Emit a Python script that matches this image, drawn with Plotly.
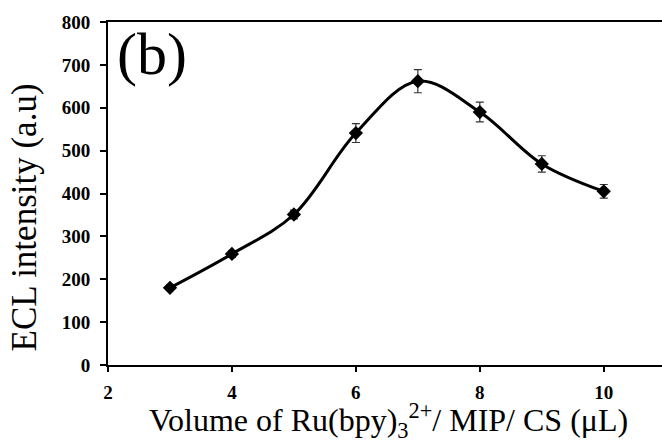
import plotly.graph_objects as go

volume = [3, 4, 5, 6, 7, 8, 9, 10]
intensity = [180, 259, 351, 541, 662, 590, 469, 405]
errors = [6, 8, 10, 22, 27, 23, 19, 16]
x_ticks = [2, 4, 6, 8, 10]
y_ticks = [0, 100, 200, 300, 400, 500, 600, 700, 800]

fig = go.Figure()
fig.add_trace(go.Scatter(
    x=volume, y=intensity,
    mode="lines+markers",
    line=dict(color="black", width=3, shape="spline", smoothing=1.0),
    marker=dict(symbol="diamond", size=11, color="black"),
    error_y=dict(type="data", array=errors, visible=True, color="#333333", thickness=1.2, width=4),
    showlegend=False,
))

tickfont = dict(family="Liberation Serif", size=19, color="black", weight="bold")
fig.update_layout(
    width=662, height=442,
    margin=dict(l=108, r=0, t=22, b=77),
    paper_bgcolor="white", plot_bgcolor="white",
    font=dict(family="Liberation Serif", color="black"),
    xaxis=dict(
        range=[2, 10.94], tickvals=x_ticks, ticktext=[str(v) for v in x_ticks],
        showgrid=False, zeroline=False,
        showline=True, linecolor="black", linewidth=2, mirror=True,
        ticks="outside", ticklen=5, tickwidth=2, tickcolor="black",
        tickfont=tickfont, ticklabelstandoff=4,
    ),
    yaxis=dict(
        range=[0, 800], tickvals=y_ticks, ticktext=[str(v) for v in y_ticks],
        showgrid=False, zeroline=False,
        showline=True, linecolor="black", linewidth=2, mirror=False,
        ticks="outside", ticklen=6, tickwidth=2, tickcolor="black",
        tickfont=tickfont, ticklabelstandoff=6,
    ),
    annotations=[
        dict(text="(b)", x=0.012, y=1.01, xref="paper", yref="paper",
             xanchor="left", yanchor="top", showarrow=False,
             font=dict(family="Liberation Serif", size=60, color="black")),
        dict(text="Volume of Ru(bpy)<sub>3</sub><sup>2+</sup>/ MIP/ CS (μL)",
             x=0.506, y=-0.162, xref="paper", yref="paper",
             xanchor="center", yanchor="middle", showarrow=False,
             font=dict(family="Liberation Serif", size=32, color="black")),
        dict(text="ECL intensity (a.u)", textangle=-90,
             x=-0.15, y=0.43, xref="paper", yref="paper",
             xanchor="center", yanchor="middle", showarrow=False,
             font=dict(family="Liberation Serif", size=35, color="black")),
    ],
)

fig.write_html("out.html")
